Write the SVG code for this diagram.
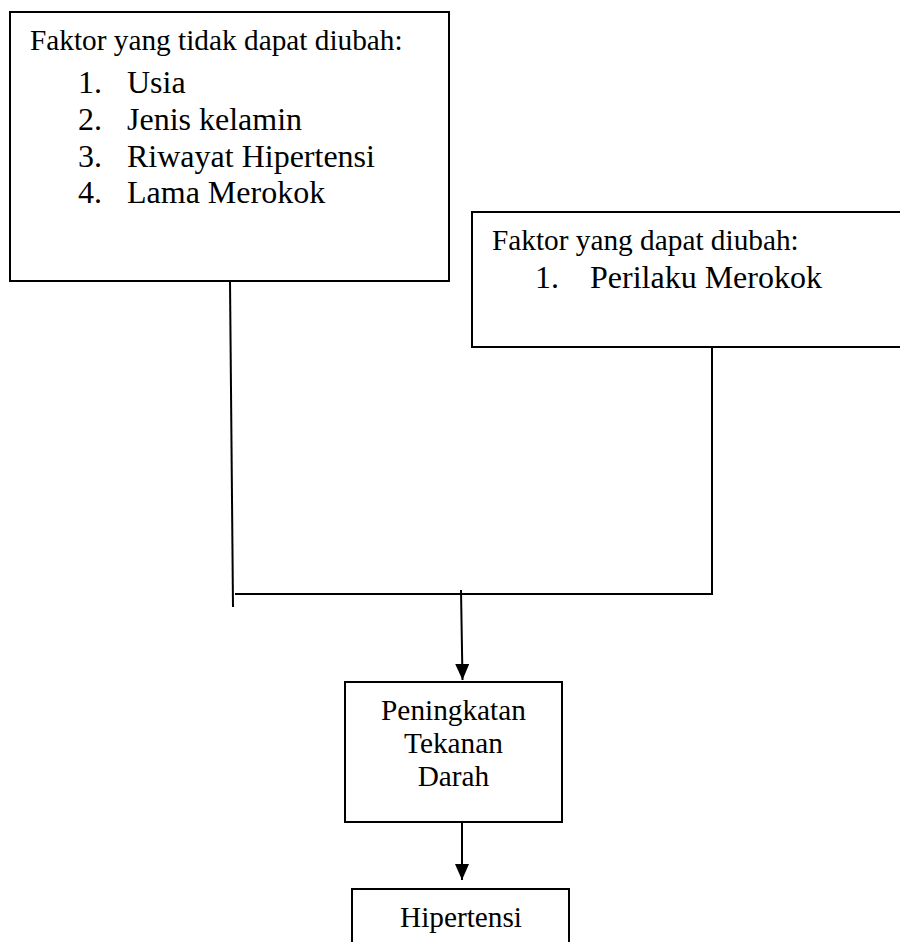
<svg xmlns="http://www.w3.org/2000/svg" width="900" height="942" viewBox="0 0 900 942">
<style>
  .box { fill: #ffffff; stroke: #000000; stroke-width: 2; }
  .conn { fill: none; stroke: #000000; stroke-width: 2; }
  .hd { font-family: "Liberation Serif", "Times New Roman", serif; font-size: 29.3px; fill: #000000; }
  .li { font-family: "Liberation Serif", "Times New Roman", serif; font-size: 32px; fill: #000000; }
  .ct { font-family: "Liberation Serif", "Times New Roman", serif; font-size: 29.3px; fill: #000000; text-anchor: middle; }
</style>
<defs>
  <marker id="arrow" markerUnits="userSpaceOnUse" markerWidth="16" markerHeight="14" viewBox="0 0 16 14" refX="16" refY="7" orient="auto">
    <path d="M0,0 L16,7 L0,14 z" fill="#000000"/>
  </marker>
</defs>
<rect width="900" height="942" fill="#ffffff"/>
<g id="connectors">
  <line class="conn" x1="230" y1="281" x2="233" y2="607"/>
  <polyline class="conn" points="235,594 712,594 712,347"/>
  <line class="conn" x1="461" y1="590" x2="462.5" y2="680" marker-end="url(#arrow)"/>
  <line class="conn" x1="462" y1="822" x2="462" y2="880" marker-end="url(#arrow)"/>
</g>
<g id="node-tidak-dapat-diubah">
  <rect class="box" x="10" y="12" width="439" height="269"/>
  <text class="hd" x="30" y="50">Faktor yang tidak dapat diubah:</text>
  <text class="li" x="78" y="93">1.</text><text class="li" x="127" y="93">Usia</text>
  <text class="li" x="78" y="130">2.</text><text class="li" x="127" y="130">Jenis kelamin</text>
  <text class="li" x="78" y="167">3.</text><text class="li" x="127" y="167">Riwayat Hipertensi</text>
  <text class="li" x="78" y="203">4.</text><text class="li" x="127" y="203">Lama Merokok</text>
</g>
<g id="node-dapat-diubah">
  <rect class="box" x="472" y="212" width="440" height="135"/>
  <text class="hd" x="492" y="250">Faktor yang dapat diubah:</text>
  <text class="li" x="535" y="288">1.</text><text class="li" x="590" y="288">Perilaku Merokok</text>
</g>
<g id="node-peningkatan">
  <rect class="box" x="345" y="682" width="217" height="140"/>
  <text class="ct" x="453.5" y="720">Peningkatan</text>
  <text class="ct" x="453.5" y="753">Tekanan</text>
  <text class="ct" x="453.5" y="786">Darah</text>
</g>
<g id="node-hipertensi">
  <rect class="box" x="352" y="889" width="217" height="80"/>
  <text class="ct" x="461" y="927">Hipertensi</text>
</g>
</svg>
